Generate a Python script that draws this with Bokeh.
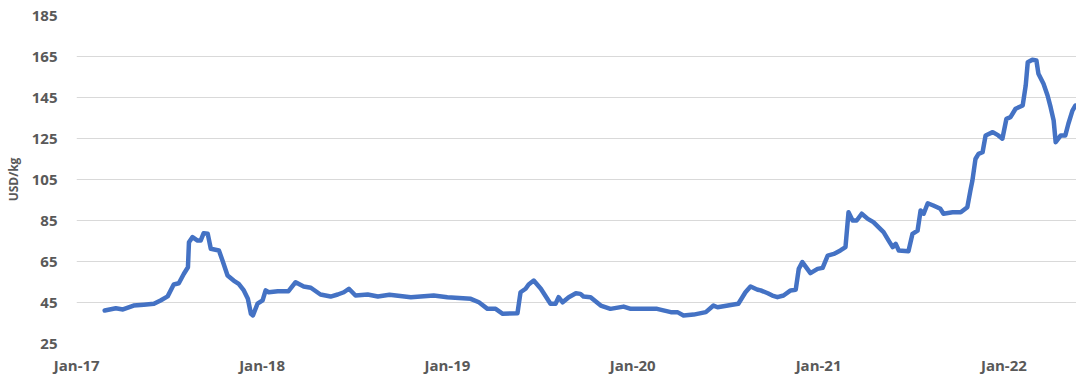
import pandas as pd
from bokeh.plotting import figure
from bokeh.models import (Range1d, FixedTicker, MonthsTicker,
                          DatetimeTickFormatter, ColumnDataSource)
from bokeh.embed import file_html
from bokeh.resources import INLINE

# ---- data (USD/kg) ----
dates = [
    "2017-02-25", "2017-03-19", "2017-04-02", "2017-04-23", "2017-05-13", "2017-06-02",
    "2017-06-15", "2017-06-29", "2017-07-11", "2017-07-21", "2017-07-31", "2017-08-08",
    "2017-08-10", "2017-08-17", "2017-08-27", "2017-09-02", "2017-09-08", "2017-09-16",
    "2017-09-22", "2017-10-08", "2017-10-15", "2017-10-25", "2017-11-06", "2017-11-16",
    "2017-11-26", "2017-12-04", "2017-12-10", "2017-12-14", "2017-12-23", "2018-01-02",
    "2018-01-08", "2018-01-14", "2018-02-01", "2018-02-22", "2018-03-08", "2018-03-24",
    "2018-04-07", "2018-04-26", "2018-05-16", "2018-05-30", "2018-06-11", "2018-06-21",
    "2018-07-04", "2018-07-28", "2018-08-17", "2018-09-09", "2018-10-21", "2018-12-05",
    "2019-01-01", "2019-02-16", "2019-03-04", "2019-03-21", "2019-04-06", "2019-04-20",
    "2019-05-19", "2019-05-25", "2019-06-04", "2019-06-10", "2019-06-20", "2019-07-04",
    "2019-07-23", "2019-08-02", "2019-08-08", "2019-08-16", "2019-08-28", "2019-09-11",
    "2019-09-20", "2019-09-26", "2019-10-10", "2019-10-30", "2019-11-18", "2019-12-14",
    "2019-12-28", "2020-02-18", "2020-03-16", "2020-03-29", "2020-04-10", "2020-04-30",
    "2020-05-24", "2020-06-08", "2020-06-16", "2020-07-18", "2020-07-27", "2020-08-10",
    "2020-08-20", "2020-09-03", "2020-09-09", "2020-09-23", "2020-10-02", "2020-10-12",
    "2020-10-24", "2020-11-07", "2020-11-17", "2020-11-23", "2020-11-30", "2020-12-16",
    "2020-12-30", "2021-01-09", "2021-01-19", "2021-01-31", "2021-02-13", "2021-02-23",
    "2021-03-01", "2021-03-09", "2021-03-17", "2021-03-27", "2021-04-08", "2021-04-19",
    "2021-05-09", "2021-05-19", "2021-05-27", "2021-06-02", "2021-06-08", "2021-06-27",
    "2021-07-05", "2021-07-15", "2021-07-21", "2021-07-27", "2021-08-04", "2021-08-15",
    "2021-08-29", "2021-09-04", "2021-09-22", "2021-10-08", "2021-10-21", "2021-10-27",
    "2021-10-31", "2021-11-06", "2021-11-12", "2021-11-20", "2021-11-26", "2021-12-10",
    "2021-12-21", "2021-12-29", "2022-01-06", "2022-01-14", "2022-01-24", "2022-02-07",
    "2022-02-13", "2022-02-17", "2022-02-26", "2022-03-06", "2022-03-10", "2022-03-20",
    "2022-03-28", "2022-04-03", "2022-04-09", "2022-04-13", "2022-04-23", "2022-05-02",
    "2022-05-08", "2022-05-16", "2022-05-22",
]
usd_per_kg = [
    41.1, 42.2, 41.6, 43.5, 43.9, 44.4,
    46.0, 48.0, 53.8, 54.4, 59.0, 62.2,
    74.4, 76.9, 75.2, 75.2, 78.8, 78.5,
    71.2, 70.4, 65.5, 58.2, 55.7, 54.1,
    50.9, 46.8, 39.5, 38.7, 44.4, 46.0,
    50.9, 50.0, 50.5, 50.5, 54.9, 52.8,
    52.2, 48.9, 47.9, 48.9, 50.0, 51.7,
    48.4, 48.9, 47.9, 48.8, 47.6, 48.4,
    47.6, 46.8, 45.1, 41.9, 41.9, 39.5,
    39.8, 50.0, 51.7, 53.8, 55.7, 51.7,
    44.4, 44.4, 47.6, 45.1, 47.6, 49.5,
    49.2, 47.9, 47.6, 43.5, 41.9, 43.0,
    41.9, 41.9, 40.3, 40.3, 38.7, 39.1,
    40.3, 43.5, 42.7, 44.0, 44.4, 50.0,
    52.8, 51.2, 50.9, 49.5, 48.4, 47.6,
    48.4, 50.9, 51.2, 61.4, 64.7, 59.3,
    61.4, 61.9, 67.9, 68.7, 70.4, 72.0,
    89.0, 85.0, 85.0, 88.3, 85.8, 84.2,
    79.3, 75.2, 72.0, 73.6, 70.4, 70.0,
    78.5, 80.1, 89.9, 88.3, 93.4, 92.3,
    90.7, 88.3, 89.0, 89.0, 91.5, 99.6,
    104.5, 115.0, 117.5, 118.3, 126.5, 128.1,
    126.5, 124.9, 134.6, 135.4, 139.5, 141.1,
    150.9, 162.2, 163.4, 163.1, 156.6, 151.7,
    146.0, 140.3, 133.8, 123.2, 126.5, 126.5,
    132.2, 138.6, 141.1,
]
y_ticks = [25, 45, 65, 85, 105, 125, 145, 165, 185]
x_tick_months = [0]          # January of each year
y_axis_title = "USD/kg"

TEXT = "#595959"
FONT = "Open Sans"

src = ColumnDataSource(dict(date=pd.to_datetime(dates), price=usd_per_kg))

p = figure(
    width=1076, height=378,
    output_backend="svg", toolbar_location=None,
    x_axis_type="datetime",
    x_range=Range1d(pd.Timestamp("2016-12-31 12:00"), pd.Timestamp("2022-05-24")),
    y_range=Range1d(25, 185),
    min_border_left=76, min_border_right=0, min_border_top=15, min_border_bottom=35,
)
p.outline_line_color = None
p.background_fill_color = "white"
p.border_fill_color = "white"

p.line("date", "price", source=src, line_color="#4472C4", line_width=4.5,
       line_join="round", line_cap="round")

# grid
p.xgrid.grid_line_color = None
p.ygrid.grid_line_color = "#d9d9d9"
p.ygrid.grid_line_width = 1

# axes
p.yaxis.ticker = FixedTicker(ticks=y_ticks)
p.xaxis.ticker = MonthsTicker(months=x_tick_months)
p.xaxis.formatter = DatetimeTickFormatter(days="%b-%y", months="%b-%y", years="%b-%y")

for ax in (p.xaxis, p.yaxis):
    ax.axis_line_color = None
    ax.major_tick_line_color = None
    ax.minor_tick_line_color = None
    ax.major_tick_out = 0
    ax.major_tick_in = 0
    ax.minor_tick_out = 0
    ax.major_label_text_font = FONT
    ax.major_label_text_font_style = "bold"
    ax.major_label_text_font_size = "15px"
    ax.major_label_text_color = TEXT

p.xaxis.major_label_standoff = 11
p.yaxis.major_label_standoff = 19

p.yaxis.axis_label = y_axis_title
p.yaxis.axis_label_text_font = FONT
p.yaxis.axis_label_text_font_style = "bold"
p.yaxis.axis_label_text_font_size = "12px"
p.yaxis.axis_label_text_color = TEXT
p.yaxis.axis_label_standoff = 7

open("out.html", "w").write(file_html(p, INLINE))
